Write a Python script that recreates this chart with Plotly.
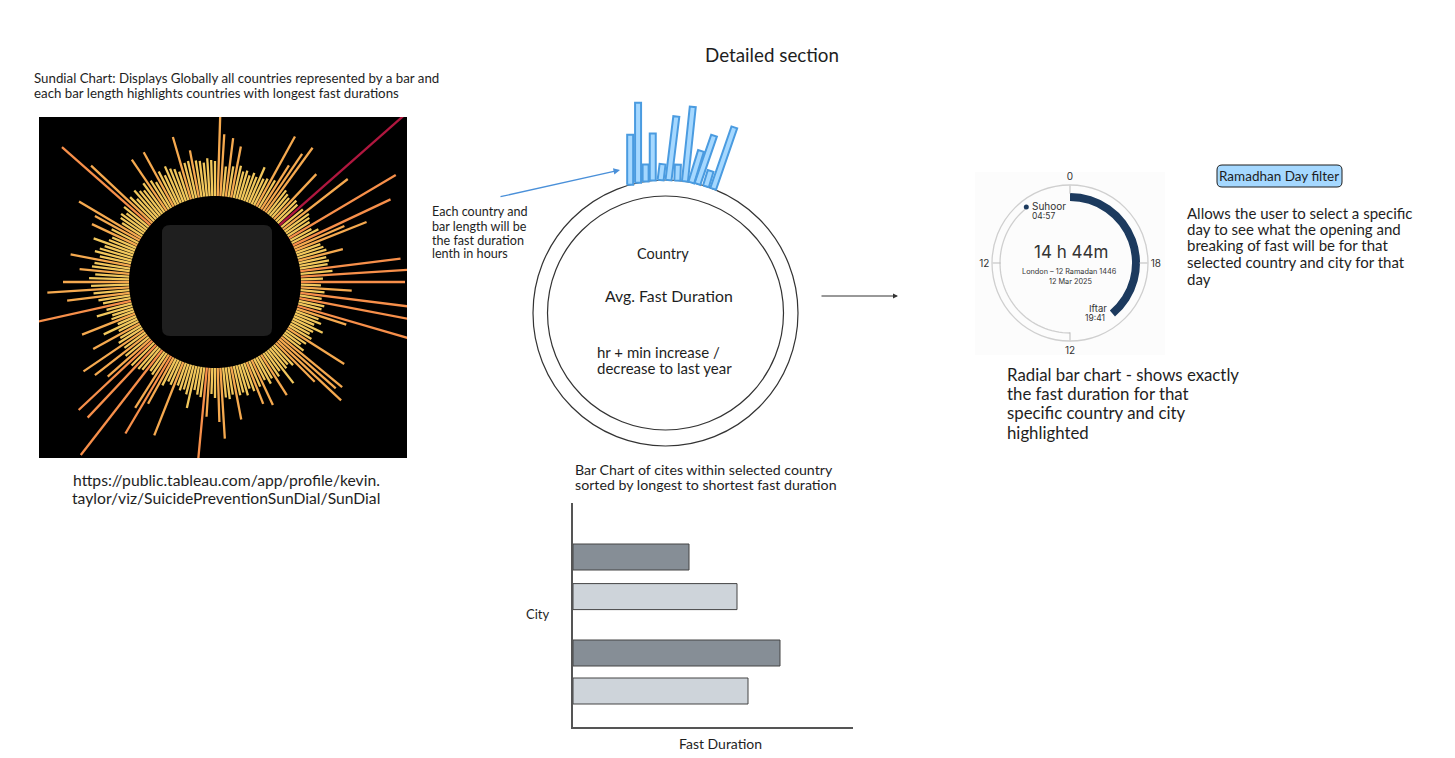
import math
import plotly.graph_objects as go

W, H = 1455, 758
FONT = "Lato"

# sundial: bar length per country, clockwise from the top
sundial_lengths = [
    35, 84, 62, 30, 59, 31, 52, 33, 28, 30,
    26, 30, 27, 39, 28, 30, 80, 32, 52, 69,
    80, 30, 28, 26, 62, 29, 27, 180, 28, 82,
    30, 28, 26, 124, 24, 30, 108, 55, 77, 26,
    28, 30, 46, 28, 30, 28, 101, 32, 115, 22,
    104, 20, 51, 24, 115, 22, 118, 26, 24, 120,
    52, 24, 28, 22, 33, 24, 22, 26, 67, 24,
    20, 26, 79, 75, 87, 55, 28, 24, 26, 42,
    24, 28, 48, 26, 30, 24, 50, 28, 45, 30,
    26, 32, 28, 30, 54, 28, 32, 30, 71, 54,
    30, 26, 49, 95, 30, 28, 24, 43, 30, 26,
    28, 24, 79, 26, 24, 30, 53, 90, 63, 26,
    24, 133, 28, 30, 100, 32, 101, 57, 30, 66,
    26, 73, 28, 24, 53, 22, 37, 20, 57, 24,
    22, 37, 26, 100, 28, 32, 63, 36, 82, 38,
    66, 40, 34, 50, 38, 36, 61, 32, 38, 34,
    30, 43, 28, 26, 50, 30, 51, 72, 24, 28,
    30, 26, 32, 118, 84, 34, 28, 36, 32, 30,
    36, 62, 34, 30, 62, 38, 32, 40, 36, 34,
    30, 65, 37, 38, 48, 37, 36, 34, 38, 36,
]

# sketch of the country dial: bars standing on the ring
sketch_angle = [-15.4, -11.9, -8.6, -5.5, -2.1, 1.3, 5.1, 8.4, 11.2, 13.9, 17.7, 21.0]
sketch_length = [50, 80, 17, 47, 16, 64, 16, 75, 33, 51, 16, 65]
sketch_lean = [0, 0, 0, 0, 7, 7, 2, 6, 17, 19, 17, 19]

# city bar chart
cities = ["City 1", "City 2", "City 3", "City 4"]
city_duration = [116, 164, 207, 175]
city_colors = ["#868e96", "#ced4da", "#868e96", "#ced4da"]

# radial bar: suhoor to iftar
radial_labels = ["0", "18", "12", "12"]
fast_arc_degrees = 140


def dom_x(a, b):
    return [a / W, b / W]


def dom_y(top, bottom):
    return [1 - bottom / H, 1 - top / H]


def round_rect(x0, y0, x1, y1, r):
    # page pixels to a paper path with rounded corners
    pts = [("M", x0 + r, y0), ("L", x1 - r, y0), ("Q", x1, y0, x1, y0 + r), ("L", x1, y1 - r),
           ("Q", x1, y1, x1 - r, y1), ("L", x0 + r, y1), ("Q", x0, y1, x0, y1 - r), ("L", x0, y0 + r),
           ("Q", x0, y0, x0 + r, y0)]
    out = []
    for p in pts:
        vals = p[1:]
        coords = [str(v / W) if k % 2 == 0 else str(1 - v / H) for k, v in enumerate(vals)]
        out.append(p[0] + " " + " ".join(coords))
    return " ".join(out) + " Z"


fig = go.Figure()

# sundial bars, grouped by colour so the longest sit on top
R0 = 86
bins = [(0, 45, "#f2c75c"), (45, 90, "#f5a94f"), (90, 170, "#f78f4a"), (170, 999, "#b0173f")]
for lo, hi, col in bins:
    xs, ys = [], []
    for i, v in enumerate(sundial_lengths):
        if lo <= v < hi:
            t = math.radians(i * 360 / len(sundial_lengths))
            xs += [R0 * math.sin(t), (R0 + v) * math.sin(t), None]
            ys += [R0 * math.cos(t), (R0 + v) * math.cos(t), None]
    fig.add_trace(go.Scatter(x=xs, y=ys, mode="lines", line=dict(color=col, width=2.3),
                             xaxis="x", yaxis="y", showlegend=False, hoverinfo="skip"))

# blue sketch bars on the dial
R1 = 133
hw = 3.0
xs, ys = [], []
for a, l, lean in zip(sketch_angle, sketch_length, sketch_lean):
    bx, by = R1 * math.sin(math.radians(a)), R1 * math.cos(math.radians(a))
    dx, dy = math.sin(math.radians(lean)), math.cos(math.radians(lean))
    xs += [bx - hw * dy, bx - hw * dy + l * dx, bx + hw * dy + l * dx, bx + hw * dy, bx - hw * dy, None]
    ys += [by + hw * dx, by + hw * dx + l * dy, by - hw * dx + l * dy, by - hw * dx, by + hw * dx, None]
fig.add_trace(go.Scatter(x=xs, y=ys, mode="lines", fill="toself", fillcolor="#a5d8ff",
                         line=dict(color="#4a9be0", width=2),
                         xaxis="x2", yaxis="y2", showlegend=False, hoverinfo="skip"))

# city bars
city_slots = [54, 93.6, 150, 188]
fig.add_trace(go.Bar(x=city_duration, y=city_slots, orientation="h", width=26,
                     marker=dict(color=city_colors, line=dict(color="#444", width=1)),
                     xaxis="x3", yaxis="y3", showlegend=False, hoverinfo="skip"))

# radial bar
fig.add_trace(go.Scatterpolar(r=[70] * 48, theta=[180 + 3 * k for k in range(48)], mode="lines",
                              line=dict(color="#cfcfcf", width=1.3), subplot="polar",
                              showlegend=False, hoverinfo="skip"))
fig.add_trace(go.Barpolar(r=[8], base=[62], theta=[fast_arc_degrees / 2], width=[fast_arc_degrees],
                          marker=dict(color="#1c3a5e", line=dict(width=0)), subplot="polar",
                          showlegend=False, hoverinfo="skip"))
fig.add_trace(go.Scatterpolar(r=[71], theta=[322], mode="markers",
                              marker=dict(color="#1c3a5e", size=5), subplot="polar",
                              showlegend=False, hoverinfo="skip"))

shapes = [
    dict(type="rect", xref="paper", yref="paper", x0=975 / W, x1=1165 / W, y0=1 - 355 / H, y1=1 - 172 / H,
         fillcolor="#fcfcfc", line=dict(width=0), layer="below"),
    dict(type="rect", xref="x domain", yref="y domain", x0=0, x1=1, y0=0, y1=1,
         fillcolor="black", line=dict(width=0), layer="below"),
    dict(type="path", xref="x", yref="y", fillcolor="#1f1f1f", line=dict(width=0),
         path="M -45 57 L 49 57 Q 57 57 57 49 L 57 -46 Q 57 -54 49 -54 L -45 -54 Q -53 -54 -53 -46 L -53 49 Q -53 57 -45 57 Z"),
    dict(type="circle", xref="x2", yref="y2", x0=-132.5, x1=132.5, y0=-133, y1=133,
         line=dict(color="#333", width=1.2), layer="below"),
    dict(type="circle", xref="x2", yref="y2", x0=-118, x1=118, y0=-117, y1=117,
         line=dict(color="#333", width=1.2), layer="below"),
    dict(type="path", xref="paper", yref="paper", fillcolor="#a5d8ff", line=dict(color="#1e1e1e", width=1),
         path=round_rect(1217, 165, 1342, 187, 5)),
]

# (x, y, size, anchor, text) in page position
texts = [
    (772, 54, 18.8, "center", "Detailed section"),
    (32, 78, 13.3, "left", "Sundial Chart: Displays Globally all countries represented by a bar and"),
    (32, 93, 13.3, "left", "each bar length highlights countries with longest fast durations"),
    (226, 480, 15.7, "center", "https://public.tableau.com/app/profile/kevin."),
    (226, 498, 15.7, "center", "taylor/viz/SuicidePreventionSunDial/SunDial"),
    (430, 212, 12.6, "left", "Each country and"),
    (430, 226, 12.6, "left", "bar length will be"),
    (430, 240, 12.6, "left", "the fast duration"),
    (430, 254, 12.6, "left", "lenth in hours"),
    (663, 253, 14.5, "center", "Country"),
    (669, 296, 15.8, "center", "Avg. Fast Duration"),
    (595, 352, 15, "left", "hr + min increase /"),
    (595, 368, 15, "left", "decrease to last year"),
    (573, 469, 14.2, "left", "Bar Chart of cites within selected country"),
    (573, 484, 14.2, "left", "sorted by longest to shortest fast duration"),
    (537, 614, 13, "center", "City"),
    (720, 743, 14, "center", "Fast Duration"),
    (1005, 375, 16.8, "left", "Radial bar chart - shows exactly"),
    (1005, 393.5, 16.8, "left", "the fast duration for that"),
    (1005, 412, 16.8, "left", "specific country and city"),
    (1005, 432.5, 16.8, "left", "highlighted"),
    (1185, 213, 15, "left", "Allows the user to select a specific"),
    (1185, 229, 15, "left", "day to see what the opening and"),
    (1185, 245, 15, "left", "breaking of fast will be for that"),
    (1185, 262, 15, "left", "selected country and city for that"),
    (1185, 279, 15, "left", "day"),
    (1279, 176, 13.5, "center", "Ramadhan Day filter"),
]
annotations = [
    dict(x=x / W, y=1 - y / H, xref="paper", yref="paper", text=t, showarrow=False, xanchor=a, yanchor="middle",
         font=dict(family=FONT, size=s, color="#1e1e1e"))
    for x, y, s, a, t in texts
]

# text inside the radial chart
for x, y, s, t in [(1071, 252, 17, "14 h 44m"), (1069, 271, 7.3, "London – 12 Ramadan 1446"),
                   (1070, 281, 7.3, "12 Mar 2025"), (1049, 206, 10, "Suhoor"), (1043, 216, 8.5, "04:57"),
                   (1098, 309, 9.5, "Iftar"), (1095, 318, 8.5, "19:41")]:
    annotations.append(dict(x=x / W, y=1 - y / H, xref="paper", yref="paper", text=t, showarrow=False,
                            xanchor="center", yanchor="middle", font=dict(family="Inter", size=s, color="#333")))

# arrows
annotations.append(dict(x=620 / W, y=1 - 170 / H, xref="paper", yref="paper", ax=-121, ay=27, text="",
                        showarrow=True, arrowhead=2, arrowwidth=1.3, arrowcolor="#4a90d9"))
annotations.append(dict(x=898 / W, y=1 - 296 / H, xref="paper", yref="paper", ax=-78, ay=0, text="",
                        showarrow=True, arrowhead=2, arrowwidth=1, arrowcolor="#333"))

hidden = dict(visible=False, showgrid=False, zeroline=False)
fig.update_layout(
    width=W, height=H, margin=dict(l=0, r=0, t=0, b=0),
    paper_bgcolor="white", plot_bgcolor="rgba(0,0,0,0)",
    shapes=shapes, annotations=annotations,
    xaxis=dict(domain=dom_x(39, 407), range=[-176, 192], **hidden),
    yaxis=dict(domain=dom_y(117, 458), range=[-176, 165], **hidden),
    xaxis2=dict(domain=dom_x(520, 810), range=[-145.5, 144.5], anchor="y2", **hidden),
    yaxis2=dict(domain=dom_y(90, 455), range=[-142, 223], anchor="x2", **hidden),
    xaxis3=dict(domain=dom_x(573, 853), range=[0, 280], anchor="y3", showgrid=False, zeroline=False,
                showticklabels=False, ticks="", showline=True, linecolor="#555", linewidth=1.5),
    yaxis3=dict(domain=dom_y(503, 727), range=[224, 0], anchor="x3", showgrid=False, zeroline=False,
                showticklabels=False, ticks="", showline=True, linecolor="#555", linewidth=1.5),
    polar=dict(
        domain=dict(x=dom_x(992, 1148), y=dom_y(185, 341)),
        bgcolor="rgba(0,0,0,0)",
        radialaxis=dict(visible=False, range=[0, 78]),
        angularaxis=dict(direction="clockwise", rotation=90, tickmode="array", tickvals=[0, 90, 180, 270],
                         ticktext=radial_labels, ticks="inside", ticklen=8, tickcolor="#bbb", showgrid=False,
                         linecolor="#cfcfcf", linewidth=1.3, tickfont=dict(family="Inter", size=10, color="#333")),
    ),
)

fig.write_html("out.html", config={"displayModeBar": False},
               post_script="document.body.style.margin='0';document.body.style.overflow='hidden';")
